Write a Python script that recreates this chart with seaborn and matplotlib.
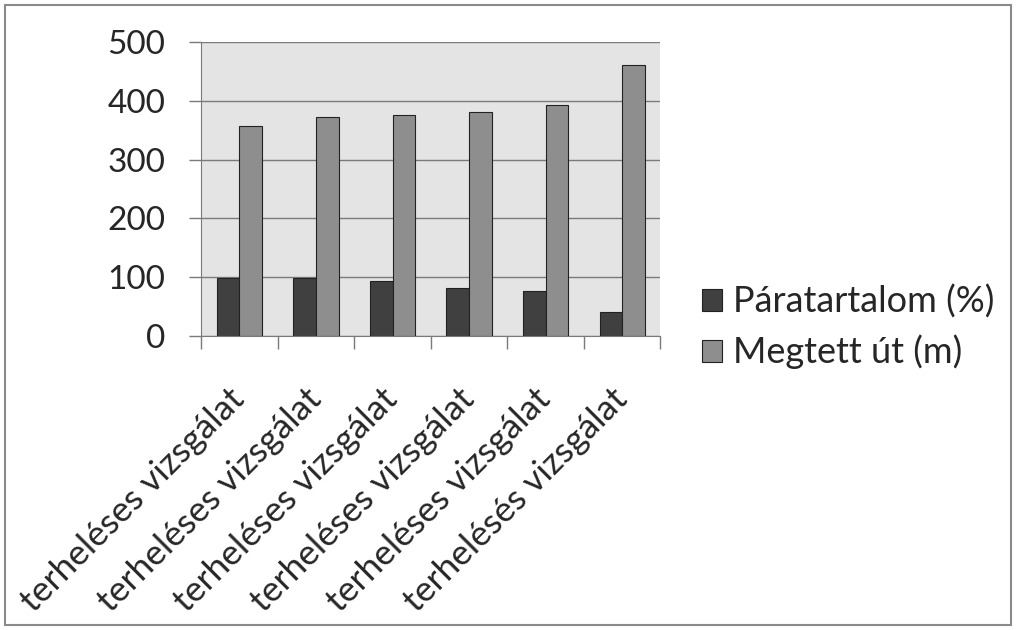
import pandas as pd
import seaborn as sns
import matplotlib.pyplot as plt
from matplotlib.patches import Rectangle

# --- Data ---
categories = ["terheléses vizsgálat"] * 5 + ["terhelésés vizsgálat"]
humidity = [98, 98, 94, 81, 77, 41]
distance = [358, 373, 376, 381, 393, 461]
series_names = ["Páratartalom (%)", "Megtett út (m)"]

df = pd.DataFrame({
    "test": list(range(len(categories))) * 2,
    "value": humidity + distance,
    "series": [series_names[0]] * len(humidity) + [series_names[1]] * len(distance),
})

sns.set_style("white")
plt.rcParams["font.family"] = ["Lato", "DejaVu Sans"]

fig = plt.figure(figsize=(10.16, 6.3), dpi=100)
ax = fig.add_axes([0.198, 0.467, 0.452, 0.466])

sns.barplot(
    data=df, x="test", y="value", hue="series",
    palette=["#404040", "#8e8e8e"], width=0.59,
    edgecolor="#222222", linewidth=0.8, ax=ax,
)

ax.set_facecolor("#e4e4e4")
ax.set_ylim(0, 500)
ax.set_xlim(-0.5, len(categories) - 0.5)
ax.set_yticks(range(0, 501, 100))
ax.yaxis.grid(True, color="#7a7a7a", linewidth=1)
ax.set_axisbelow(True)
ax.set_xlabel("")
ax.set_ylabel("")

for side in ["top", "right"]:
    ax.spines[side].set_visible(False)
for side in ["left", "bottom"]:
    ax.spines[side].set_color("#7a7a7a")

ax.tick_params(axis="y", left=True, length=9, width=1, color="#7a7a7a",
               pad=17, labelsize=24)
ax.set_xticks(range(len(categories)))
ax.set_xticklabels(categories, rotation=45, ha="right", va="center",
                   rotation_mode="anchor", fontsize=25.5)
ax.tick_params(axis="x", which="major", length=0, pad=42)
ax.set_xticks([i - 0.5 for i in range(len(categories) + 1)], minor=True)
ax.tick_params(axis="x", which="minor", bottom=True, length=9, width=1,
               color="#7a7a7a")

ax.legend(loc="center left", bbox_to_anchor=(1.02, 0.03), frameon=False,
          fontsize=26, handlelength=0.55, handleheight=0.55,
          handletextpad=0.3, labelspacing=0.45)

fig.patches.append(Rectangle((0.005, 0.008), 0.99, 0.984, transform=fig.transFigure,
                             fill=False, edgecolor="#8a8a8a", linewidth=1.5))

fig.savefig("out.png", dpi=100)
